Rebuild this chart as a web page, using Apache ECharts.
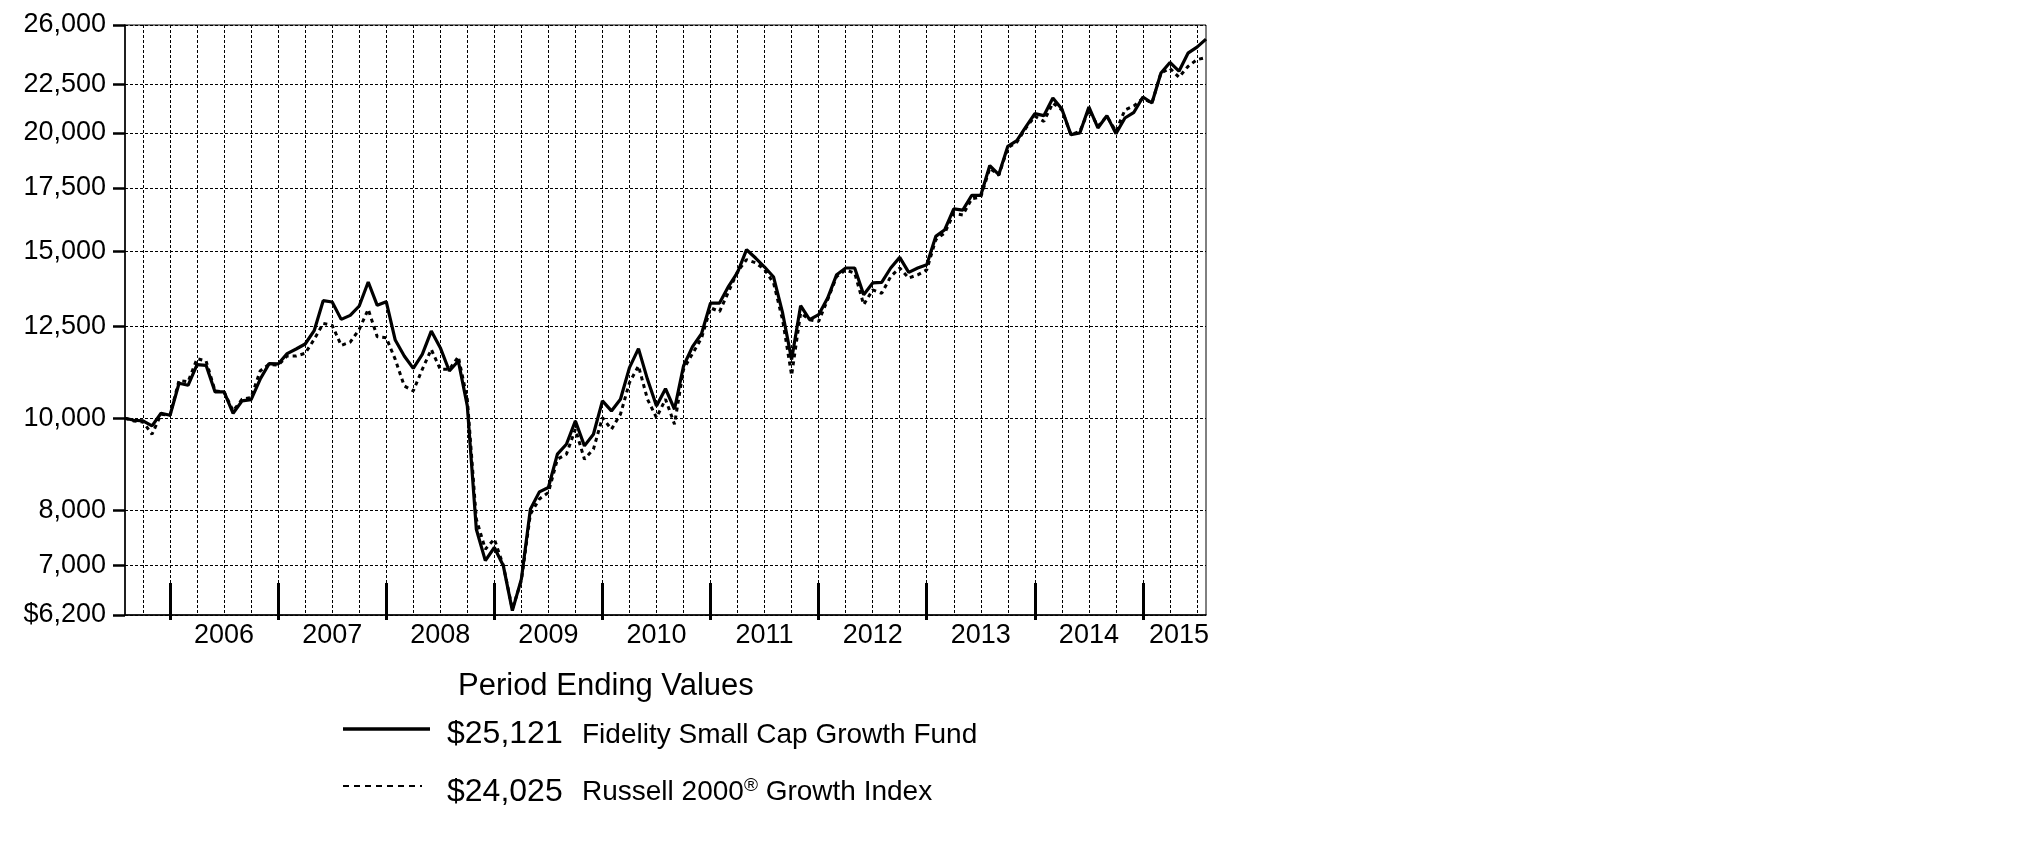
<!DOCTYPE html>
<html><head><meta charset="utf-8">
<script src="https://cdn.jsdelivr.net/npm/echarts@6/dist/echarts.min.js"></script>
<style>html,body{margin:0;padding:0;background:#fff;} #c{width:2026px;height:852px;}</style>
</head><body><div id="c"></div>
<script>
// ---- data ----
const startYear = 2005, startMonth = 7; // first point: Jul 2005
const fundValues = [
10000, 9952, 9935, 9816, 10122, 10073, 10887, 10834, 11390, 11372,
10660, 10660, 10122, 10430, 10463, 10992, 11420, 11411, 11700, 11832,
11977, 12370, 13307, 13264, 12716, 12840, 13136, 13925, 13158, 13273,
12093, 11633, 11290, 11681, 12360, 11871, 11218, 11494, 10304, 7637,
7075, 7305, 6987, 6266, 6765, 8017, 8362, 8451, 9164, 9389,
9935, 9351, 9619, 10430, 10180, 10472, 11310, 11844, 10992, 10304,
10746, 10221, 11355, 11900, 12280, 13230, 13230, 13779, 14255, 15061,
14760, 14441, 14094, 12915, 11532, 13146, 12705, 12861, 13392, 14174,
14406, 14406, 13500, 13892, 13914, 14406, 14783, 14255, 14406, 14521,
15556, 15812, 16630, 16580, 17190, 17190, 18477, 18078, 19362, 19632,
20294, 20962, 20860, 21776, 21200, 19919, 20000, 21304, 20244, 20860,
19968, 20742, 21030, 21826, 21512, 23140, 23740, 23240, 24280, 24640,
25121];
const indexValues = [
10000, 9935, 9911, 9619, 10098, 10073, 10963, 10927, 11558, 11493,
10686, 10660, 10180, 10472, 10515, 11218, 11402, 11374, 11634, 11634,
11710, 12114, 12593, 12532, 11937, 12034, 12410, 13030, 12192, 12161,
11538, 10816, 10686, 11262, 11822, 11262, 11262, 11615, 10472, 7826,
7276, 7455, 6990, 6290, 6740, 7920, 8218, 8350, 9053, 9164,
9736, 9053, 9276, 10016, 9736, 10098, 10904, 11355, 10472, 10016,
10472, 9855, 11262, 11700, 12152, 13076, 12960, 13600, 14285, 14700,
14590, 14350, 13890, 12700, 11100, 12915, 12705, 12655, 13340, 14110,
14340, 14230, 13180, 13660, 13550, 14110, 14406, 14060, 14170, 14340,
15430, 15690, 16450, 16390, 17050, 17120, 18360, 18050, 19290, 19560,
20240, 20830, 20570, 21510, 21150, 19920, 20080, 21150, 20330, 20830,
20080, 21150, 21360, 21760, 21510, 23140, 23400, 22900, 23510, 23900,
24025];
const yTicks = [6200, 7000, 8000, 10000, 12500, 15000, 17500, 20000, 22500, 26000];
const yTickLabels = ['$6,200', '7,000', '8,000', '10,000', '12,500', '15,000', '17,500', '20,000', '22,500', '26,000'];
const yearLabels = ['2006', '2007', '2008', '2009', '2010', '2011', '2012', '2013', '2014', '2015'];
const seriesNames = ['Fidelity Small Cap Growth Fund', 'Russell 2000\u00AE Growth Index'];
const legendTitle = 'Period Ending Values';

// ---- derived ----
const months = [];
for (let i = 0; i < fundValues.length; i++) {
  const m = startMonth - 1 + i;
  months.push((startYear + Math.floor(m / 12)) + '-' + String(m % 12 + 1).padStart(2, '0'));
}
const yearLabelIdx = {};
yearLabels.forEach(y => {
  let s = months.indexOf((+y - 1) + '-12'); if (s < 0) s = 0;
  let e = months.indexOf(y + '-12'); if (e < 0) e = months.length - 1;
  yearLabelIdx[Math.ceil((s + e) / 2)] = y;
});
const money = v => '$' + v.toLocaleString('en-US');
const FONT = '"Liberation Sans", Arial, sans-serif';

const chart = echarts.init(document.getElementById('c'), null, {renderer: 'canvas'});
chart.setOption({
  animation: false,
  backgroundColor: '#fff',
  grid: {left: 125, top: 25, right: 820, bottom: 237, show: true, borderColor: '#000', borderWidth: 1, outerBoundsMode: 'none'},
  xAxis: [{
    type: 'category', data: months, boundaryGap: false,
    axisLine: {show: true, lineStyle: {color: '#000', width: 1.5}},
    axisTick: {show: true, inside: true, length: 32, interval: (i) => i % 12 === 5, lineStyle: {color: '#000', width: 3}},
    axisLabel: {show: true, interval: (i) => yearLabelIdx[i] !== undefined, formatter: (v, i) => yearLabelIdx[i] || '',
      color: '#000', fontFamily: FONT, fontSize: 27, margin: 7},
    splitLine: {show: true, interval: (i) => i % 3 === 2, lineStyle: {color: '#000', width: 1, type: [3, 2]}}
  }, {
    type: 'category', data: months, boundaryGap: false, position: 'bottom',
    axisLine: {show: false},
    axisTick: {show: true, inside: false, length: 5, interval: (i) => i % 12 === 5, lineStyle: {color: '#000', width: 3}},
    axisLabel: {show: false}, splitLine: {show: false}
  }],
  yAxis: {
    type: 'log', logBase: 10, min: yTicks[0], max: yTicks[yTicks.length - 1],
    axisLine: {show: true, lineStyle: {color: '#000', width: 1.5}},
    axisTick: {show: true, length: 12, customValues: yTicks, lineStyle: {color: '#000', width: 2.5}},
    axisLabel: {customValues: yTicks, color: '#000', fontFamily: FONT, fontSize: 27, margin: 19,
      formatter: (v) => {
        let best = 0;
        yTicks.forEach((t, k) => { if (Math.abs(t - v) < Math.abs(yTicks[best] - v)) best = k; });
        return yTickLabels[best];
      }},
    splitLine: {show: true, lineStyle: {color: '#000', width: 1, type: [3, 2]}}
  },
  series: [{
    name: seriesNames[1], type: 'line', data: indexValues, symbol: 'none', xAxisIndex: 0,
    lineStyle: {color: '#000', width: 3, type: [4, 4]}, z: 3
  }, {
    name: seriesNames[0], type: 'line', data: fundValues, symbol: 'none', xAxisIndex: 0,
    lineStyle: {color: '#000', width: 3.2}, z: 4
  }],
  graphic: [
    {type: 'text', x: 458, y: 686, style: {text: legendTitle, font: '31px ' + FONT, fill: '#000', textVerticalAlign: 'middle'}},
    {type: 'line', shape: {x1: 343, y1: 729, x2: 430, y2: 729}, style: {stroke: '#000', lineWidth: 3.5}},
    {type: 'text', x: 447, y: 734, style: {text: money(fundValues[fundValues.length - 1]), font: '32px ' + FONT, fill: '#000', textVerticalAlign: 'middle'}},
    {type: 'text', x: 582, y: 735, style: {text: seriesNames[0], font: '28px ' + FONT, fill: '#000', textVerticalAlign: 'middle'}},
    {type: 'line', shape: {x1: 343, y1: 786, x2: 422, y2: 786}, style: {stroke: '#000', lineWidth: 2, lineDash: [6, 5]}},
    {type: 'text', x: 447, y: 792, style: {text: money(indexValues[indexValues.length - 1]), font: '32px ' + FONT, fill: '#000', textVerticalAlign: 'middle'}},
    {type: 'text', x: 582, y: 792, style: {
      text: '{a|Russell 2000}{s|\u00AE}{a| Growth Index}', fill: '#000', textVerticalAlign: 'middle', font: '28px ' + FONT,
      rich: {a: {fontSize: 28, fontFamily: FONT, color: '#000', lineHeight: 32},
             s: {fontSize: 19, fontFamily: FONT, color: '#000', verticalAlign: 'top', lineHeight: 32}}
    }}
  ]
});
</script></body></html>
